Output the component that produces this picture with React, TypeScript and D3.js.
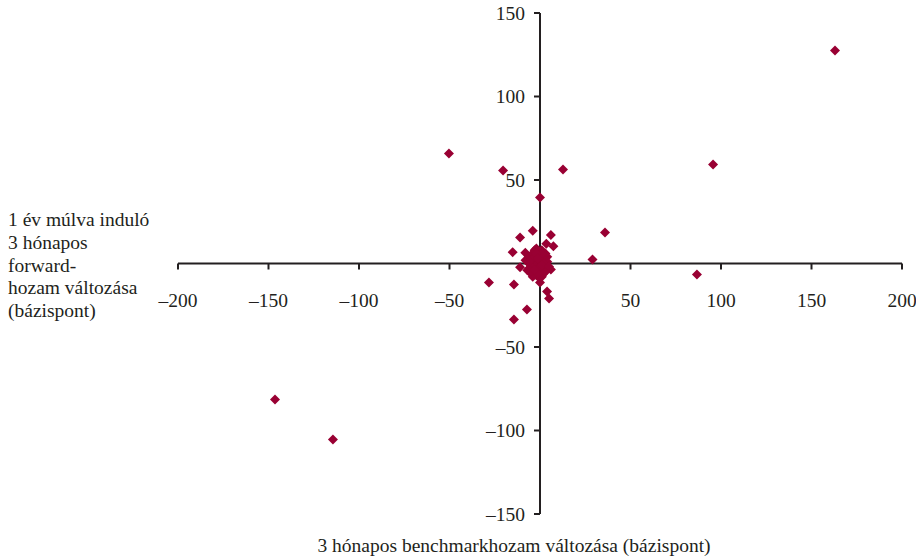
import React from "react";
import * as d3 from "d3";

const W = 916;
const H = 559;

const xTicks = [-200, -150, -100, -50, 0, 50, 100, 150, 200];
const yTicks = [-150, -100, -50, 0, 50, 100, 150];

const yTitleLines = ["1 év múlva induló", "3 hónapos", "forward-", "hozam változása", "(bázispont)"];
const xTitle = "3 hónapos benchmarkhozam változása (bázispont)";

// benchmark yield change (x), forward yield change (y)
const benchmarkChange = [
  163, 95.6, -50.3, -20.4, 12.7, 0, 35.9, 29, 86.7, -146.4, -114.4,
  -28.2, -14.4, -14.4, -7.2, 3.9, 5, 0,
  -4, -11, 6, -15.1, -8.1, 3.5, 7.4, -11, 6,
  -8, -6, -5, -4, -3, -2, -1, 0, 0, 1, 2, 3, -7, -5, -2, 0, 2, -3, 1, -1, 4, -6, 3, 1, -4, -2, -1, 1, 2, -3, 0,
  -6, -4, -2, 0, 2, 4, -5, -3, -1, 1, 3, -4, -2, 0, 2, -3, -1, 1, -6, 5,
];
const forwardChange = [
  127.5, 59.3, 65.9, 55.7, 56.3, 39.5, 18.6, 2.4, -6.6, -81.4, -105.4,
  -11.4, -12.6, -33.5, -27.5, -16.8, -21, -11.4,
  19.6, 15.6, 17, 6.8, 6.4, 11.8, 10.4, -2.2, -3.6,
  2, 4, -1, 6, 3, -2, 1, 0, 5, -3, 2, -1, -4, -6, -7, -5, -6, 8, 8, -8, 4, -3, 6, -8, -8, 9, -4, 3, -2, 0, -3,
  0, -2, 4, 2, -4, 1, -5, 2, -6, 6, -5, 3, 6, -2, 0, -4, 3, -1, 1, -2,
];

const points = benchmarkChange.map((x, i) => ({ x, y: forwardChange[i] }));

export default function App() {
  const x = d3.scaleLinear().domain([-200, 200]).range([178, 902]);
  const y = d3.scaleLinear().domain([-150, 150]).range([514, 13]);
  const font = "'Liberation Serif', 'Times New Roman', serif";
  const axisColor = "#231f20";
  const fs = 19.5;
  const r = 5;
  const diamond = (cx: number, cy: number) =>
    `M${cx},${cy - r}L${cx + r},${cy}L${cx},${cy + r}L${cx - r},${cy}Z`;

  return (
    <svg
      width={W}
      height={H}
      style={{ position: "absolute", left: 0, top: 0, background: "#fff" }}
    >
      {/* x axis */}
      <line x1={x(-200)} x2={x(200)} y1={y(0)} y2={y(0)} stroke={axisColor} strokeWidth={2} />
      {xTicks.map((t) => (
        <g key={"xt" + t}>
          <line x1={x(t)} x2={x(t)} y1={y(0)} y2={y(0) + 6} stroke={axisColor} strokeWidth={2} />
          {t !== 0 && (
            <text
              x={x(t)}
              y={y(0) + 43}
              textAnchor="middle"
              fontFamily={font}
              fontSize={fs}
              fill="#231f20"
            >
              {t < 0 ? "–" + Math.abs(t) : String(t)}
            </text>
          )}
        </g>
      ))}
      {/* y axis */}
      <line x1={x(0)} x2={x(0)} y1={y(150)} y2={y(-150)} stroke={axisColor} strokeWidth={2} />
      {yTicks.map((t) => (
        <g key={"yt" + t}>
          <line x1={x(0) - 6} x2={x(0)} y1={y(t)} y2={y(t)} stroke={axisColor} strokeWidth={2} />
          {t !== 0 && (
            <text
              x={x(0) - 15}
              y={y(t) + 6.5}
              textAnchor="end"
              fontFamily={font}
              fontSize={fs}
              fill="#231f20"
            >
              {t < 0 ? "–" + Math.abs(t) : String(t)}
            </text>
          )}
        </g>
      ))}
      {/* points */}
      {points.map((p, i) => (
        <path key={i} d={diamond(x(p.x), y(p.y))} fill="#990033" />
      ))}
      {/* titles */}
      {yTitleLines.map((l, i) => (
        <text key={l} x={8} y={226 + i * 22.8} fontFamily={font} fontSize={fs} fill="#231f20">
          {l}
        </text>
      ))}
      <text x={514} y={552} textAnchor="middle" fontFamily={font} fontSize={fs} fill="#231f20">
        {xTitle}
      </text>
    </svg>
  );
}
